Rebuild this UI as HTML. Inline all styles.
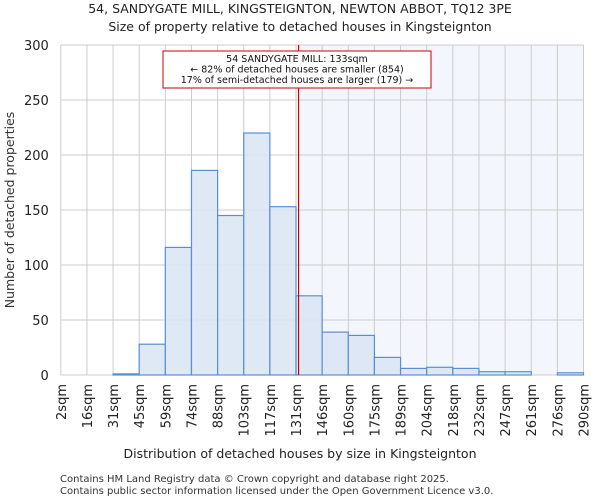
<!DOCTYPE html>
<html><head><meta charset="utf-8"><style>
body{margin:0;background:#fff;font-family:"DejaVu Sans","Liberation Sans",sans-serif}
</style></head><body>
<svg id="c" width="600" height="500" xmlns="http://www.w3.org/2000/svg">
<text x="300" y="13" text-anchor="middle" font-size="12.5" fill="#222">54, SANDYGATE MILL, KINGSTEIGNTON, NEWTON ABBOT, TQ12 3PE</text>
<text x="300" y="31" text-anchor="middle" font-size="12.5" fill="#222">Size of property relative to detached houses in Kingsteignton</text>
<g id="plot"></g>
<text x="300" y="458" text-anchor="middle" font-size="12.5" fill="#222">Distribution of detached houses by size in Kingsteignton</text>
<text transform="translate(14,210) rotate(-90)" text-anchor="middle" font-size="12.5" fill="#333">Number of detached properties</text>
<text x="60" y="482" font-size="10" fill="#333">Contains HM Land Registry data © Crown copyright and database right 2025.</text>
<text x="60" y="494" font-size="10" fill="#333">Contains public sector information licensed under the Open Government Licence v3.0.</text>
</svg>
<script>
const tickLabels=["2sqm","16sqm","31sqm","45sqm","59sqm","74sqm","88sqm","103sqm","117sqm","131sqm","146sqm","160sqm","175sqm","189sqm","204sqm","218sqm","232sqm","247sqm","261sqm","276sqm","290sqm"];
const counts=[0,0,1,28,116,186,145,220,153,72,39,36,16,6,7,6,3,3,0,2];
const yTicks=[0,50,100,150,200,250,300];
const binStart=2, binWidth=14.4, marker=133;
const L=60.8,R=583.5,T=45,B=375,yMax=300;
const n=counts.length;
const xs=v=>L+(v-binStart)/(binWidth*n)*(R-L);
const xb=i=>L+i*(R-L)/n;
const ys=v=>B-v/yMax*(B-T);
const g=document.getElementById('plot');
const NS="http://www.w3.org/2000/svg";
function mk(t,a){const e=document.createElementNS(NS,t);for(const k in a)e.setAttribute(k,a[k]);g.appendChild(e);return e;}
const mx=xs(marker);
let e=mk('rect',{x:mx,y:T,width:R-mx,height:B-T,fill:'#eef2fb',opacity:0.7});


for(let i=0;i<=n;i++){e=mk('line',{x1:xb(i),x2:xb(i),y1:T,y2:B,stroke:'#ccc','stroke-width':1});

}
yTicks.forEach(v=>{e=mk('line',{x1:L,x2:R,y1:ys(v),y2:ys(v),stroke:'#ccc','stroke-width':1});


e=mk('text',{x:L-12,y:ys(v)+5,'text-anchor':'end','font-size':13,fill:'#222'});e.textContent=v;

});
counts.forEach((c,i)=>{if(c<=0)return;e=mk('rect',{x:xb(i),y:ys(c),width:xb(i+1)-xb(i),height:B-ys(c),fill:'#dce6f4','fill-opacity':0.9,stroke:'#5b8fd4','stroke-width':1.2});

});
tickLabels.forEach((t,i)=>{const x=xb(i);e=mk('text',{transform:`translate(${x+5},384) rotate(-90)`,'text-anchor':'end','font-size':13,fill:'#222'});e.textContent=t;

});
e=mk('line',{x1:mx,x2:mx,y1:T,y2:B,stroke:'#cc0000','stroke-width':1.2});


e=mk('rect',{x:163,y:51,width:268,height:37,fill:'#fff',stroke:'#cc0000','stroke-width':1});


["54 SANDYGATE MILL: 133sqm","← 82% of detached houses are smaller (854)","17% of semi-detached houses are larger (179) →"].forEach((t,i)=>{e=mk('text',{x:297,y:62+i*10.5,'text-anchor':'middle','font-size':9.5,fill:'#111'});e.textContent=t;

});
</script>
</body></html>
